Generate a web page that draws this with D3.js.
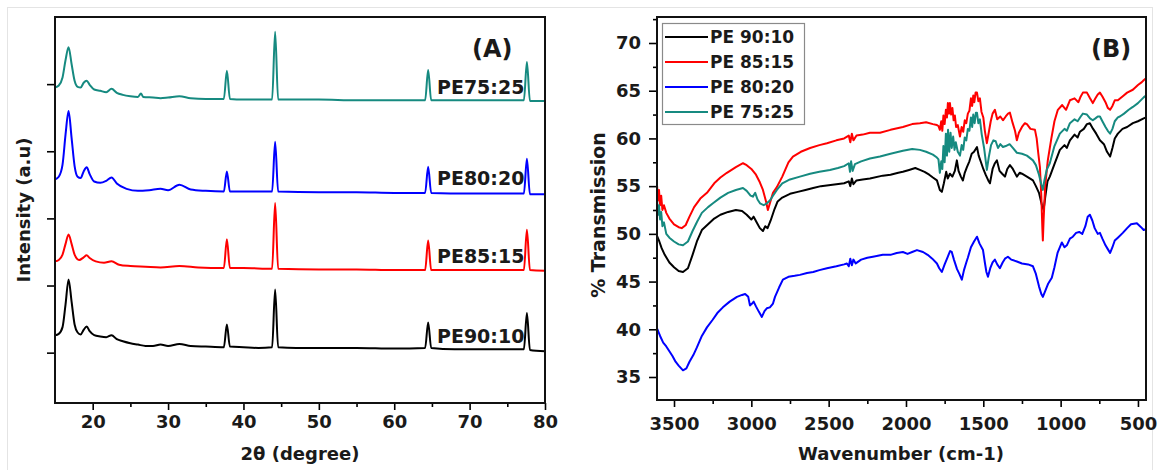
<!doctype html>
<html lang="en">
  <head>
    <meta charset="utf-8">
    <title>XRD and FTIR of PE blends</title>
    <script src="https://d3js.org/d3.v7.min.js"></script>
    <style>
      body { margin: 0; background: #fff; }
      text { font-family: "DejaVu Sans", sans-serif; font-weight: bold; fill: #1a1a1a; }
    </style>
  </head>

  <body>
    <svg width="1159" height="470"></svg>

    <script>
      // ---------- data ----------
      var samples = ["PE 90:10", "PE 85:15", "PE 80:20", "PE 75:25"];
      var xrdLabels = ["PE90:10", "PE85:15", "PE80:20", "PE75:25"];
      var colors = ["#000000", "#ff0000", "#0000ff", "#168a80"];

      // XRD, [2theta, stacked intensity]
      var xrd9010 = [[15,0.26],[15.5,0.28],[16.0,0.38],[16.4,0.72],[16.8,1.09],[17.2,0.76],[17.6,0.42],[18.0,0.3],[18.4,0.27],[18.8,0.34],[19.2,0.39],[19.6,0.32],[20.2,0.26],[21.0,0.24],[21.8,0.23],[22.5,0.26],[23.2,0.2],[24,0.17],[25,0.14],[26,0.12],[27,0.1],[28,0.1],[29,0.12],[30,0.1],[31.5,0.13],[33,0.1],[35,0.09],[37.4,0.08],[37.8,0.42],[38.2,0.09],[40,0.08],[42,0.07],[43.8,0.08],[44.2,0.94],[44.6,0.08],[47,0.07],[50,0.07],[55,0.07],[60,0.06],[64.1,0.07],[64.5,0.45],[64.9,0.07],[68,0.05],[72,0.05],[77.2,0.05],[77.6,0.59],[78.0,0.04],[80,0.02]];
      var xrd8515 = [[15,1.36],[15.5,1.38],[16.0,1.46],[16.4,1.62],[16.8,1.76],[17.2,1.62],[17.6,1.46],[18.2,1.38],[18.8,1.42],[19.2,1.45],[19.6,1.41],[20.4,1.36],[21.5,1.34],[22.5,1.36],[23.5,1.31],[25,1.29],[27,1.28],[29,1.27],[31.5,1.29],[34,1.27],[37.4,1.26],[37.8,1.69],[38.2,1.26],[40,1.26],[43.8,1.25],[44.2,2.23],[44.6,1.25],[50,1.24],[55,1.24],[60,1.23],[64.1,1.23],[64.5,1.67],[64.9,1.23],[70,1.23],[77.2,1.23],[77.6,1.83],[78.0,1.23],[80,1.22]];
      var xrd8020 = [[15,2.58],[15.5,2.62],[16.0,2.8],[16.4,3.25],[16.8,3.6],[17.2,3.2],[17.6,2.78],[18.0,2.62],[18.4,2.6],[18.8,2.7],[19.2,2.76],[19.6,2.66],[20.2,2.55],[21.0,2.53],[21.8,2.56],[22.5,2.61],[23.2,2.52],[24.5,2.44],[26,2.41],[27.5,2.42],[29,2.44],[30,2.42],[31.5,2.5],[33,2.43],[35,2.41],[37.4,2.4],[37.8,2.7],[38.2,2.4],[40,2.4],[43.8,2.4],[44.2,3.14],[44.6,2.4],[50,2.39],[55,2.39],[60,2.38],[64.1,2.38],[64.5,2.77],[64.9,2.38],[70,2.37],[77.2,2.37],[77.6,2.89],[78.0,2.36],[80,2.36]];
      var xrd7525 = [[15,3.95],[15.5,3.98],[16.0,4.1],[16.4,4.36],[16.8,4.55],[17.2,4.3],[17.6,4.05],[18.0,3.96],[18.4,3.95],[18.8,4.02],[19.2,4.05],[19.6,3.99],[20.2,3.92],[21,3.9],[21.8,3.88],[22.5,3.93],[23.2,3.87],[24,3.84],[25,3.82],[26,3.81],[26.4,3.86],[26.7,3.81],[28,3.8],[29,3.79],[30,3.8],[31.5,3.82],[33,3.79],[35,3.78],[37.4,3.78],[37.8,4.2],[38.2,3.78],[40,3.77],[43.8,3.77],[44.2,4.78],[44.6,3.77],[50,3.77],[55,3.76],[60,3.76],[64.1,3.76],[64.5,4.21],[64.9,3.76],[70,3.76],[77.2,3.76],[77.6,4.33],[78.0,3.75],[80,3.75]];
      var xrdLabelY = [0.144, 1.336, 2.497, 3.853];

      // FTIR, [wavenumber, % transmission]
      var ftir9010 = [[3610,49.8],[3595,49.2],[3580,48.5],[3560,47.8],[3530,47.0],[3500,46.5],[3470,46.1],[3442,46.0],[3410,46.4],[3380,47.8],[3350,49.3],[3320,50.4],[3280,51.0],[3240,51.6],[3200,52.0],[3150,52.3],[3100,52.5],[3060,52.4],[3030,52.0],[3000,51.5],[2985,51.8],[2965,51.2],[2945,50.6],[2925,50.3],[2910,50.8],[2895,50.6],[2875,51.4],[2850,52.6],[2830,53.4],[2800,53.8],[2750,54.2],[2700,54.4],[2650,54.6],[2600,54.8],[2550,55.0],[2500,55.1],[2450,55.2],[2400,55.3],[2370,55.5],[2360,55.0],[2350,55.8],[2340,55.2],[2320,55.6],[2280,55.7],[2233,55.8],[2150,56.1],[2100,56.2],[2050,56.4],[2020,56.5],[1980,56.7],[1940,56.9],[1910,56.7],[1880,56.5],[1850,56.2],[1826,55.9],[1800,55.6],[1781,54.6],[1768,54.4],[1755,55.3],[1740,56.5],[1730,55.8],[1716,56.3],[1700,56.0],[1684,56.6],[1671,57.7],[1660,56.6],[1645,56.0],[1632,55.6],[1620,56.4],[1606,57.0],[1590,57.6],[1575,58.4],[1560,58.6],[1541,59.1],[1530,58.2],[1515,57.5],[1500,56.8],[1485,56.2],[1468,55.6],[1457,55.3],[1440,56.8],[1425,57.4],[1412,57.7],[1395,56.6],[1378,56.3],[1360,56.0],[1345,56.8],[1328,57.2],[1309,56.8],[1283,56.0],[1265,56.4],[1250,56.3],[1218,56.0],[1179,55.6],[1160,55.0],[1140,54.3],[1121,53.0],[1110,52.5],[1100,53.8],[1085,55.5],[1070,56.0],[1040,57.3],[1005,58.8],[975,59.3],[960,59.0],[940,59.8],[910,60.4],[890,60.1],[875,60.7],[850,61.0],[830,61.5],[811,61.6],[790,61.0],[770,60.5],[746,59.8],[720,59.4],[700,58.6],[680,58.1],[665,59.0],[650,60.0],[630,60.5],[600,61.0],[570,61.2],[533,61.6],[500,61.8],[463,62.1],[448,62.2]];
      var ftir8515 = [[3610,55.1],[3603,53.5],[3597,54.6],[3590,53.0],[3583,54.0],[3575,52.5],[3565,53.0],[3550,52.2],[3530,51.6],[3500,51.0],[3470,50.7],[3450,50.6],[3425,50.9],[3400,51.8],[3370,52.8],[3330,53.7],[3287,54.3],[3240,55.3],[3200,55.9],[3158,56.4],[3100,57.0],[3054,57.4],[3030,57.2],[3000,56.8],[2970,56.2],[2945,55.4],[2925,54.6],[2905,53.4],[2893,52.5],[2880,53.2],[2860,54.3],[2835,54.9],[2800,56.0],[2760,57.5],[2731,58.1],[2680,58.6],[2620,59.0],[2560,59.3],[2511,59.5],[2450,59.8],[2400,60.0],[2370,60.3],[2360,59.6],[2350,60.5],[2340,59.8],[2320,60.3],[2280,60.4],[2233,60.6],[2168,60.6],[2100,60.9],[2020,61.2],[1960,61.5],[1910,61.6],[1870,61.7],[1826,61.5],[1800,61.4],[1790,61.3],[1781,60.9],[1772,61.8],[1765,60.8],[1758,62.4],[1750,61.5],[1742,63.0],[1735,62.2],[1729,63.7],[1722,62.6],[1716,63.7],[1708,62.5],[1700,63.2],[1692,61.9],[1684,62.4],[1676,61.2],[1665,61.4],[1651,60.2],[1640,61.2],[1630,60.7],[1620,61.9],[1610,61.6],[1600,62.6],[1590,62.9],[1580,64.2],[1572,63.4],[1565,64.5],[1558,63.8],[1550,64.8],[1541,64.8],[1532,63.9],[1522,64.2],[1512,62.8],[1500,62.2],[1490,60.8],[1477,59.5],[1465,60.6],[1452,61.8],[1440,62.6],[1425,63.0],[1410,62.0],[1390,62.3],[1373,61.9],[1355,62.3],[1340,62.6],[1328,62.7],[1310,61.6],[1295,60.8],[1283,59.8],[1270,60.6],[1250,61.2],[1231,61.6],[1218,61.5],[1195,61.0],[1166,60.9],[1155,60.0],[1145,58.5],[1134,57.0],[1125,54.0],[1118,50.5],[1115,49.3],[1110,51.5],[1100,55.0],[1083,57.7],[1060,60.0],[1040,61.8],[1018,63.0],[990,63.5],[965,63.0],[940,64.0],[910,64.2],[885,63.8],[870,64.4],[856,64.8],[830,64.8],[810,64.2],[792,63.7],[775,64.2],[760,64.6],[746,64.8],[730,64.4],[710,63.8],[695,63.2],[680,63.0],[665,63.4],[650,64.0],[630,64.0],[600,64.4],[570,64.8],[533,65.1],[500,65.6],[475,65.9],[463,66.1],[448,66.3]];
      var ftir8020 = [[3610,40.1],[3590,39.3],[3570,38.6],[3550,38.2],[3530,37.7],[3510,37.2],[3490,36.6],[3470,36.2],[3442,35.7],[3420,35.9],[3400,36.6],[3375,37.3],[3352,38.1],[3320,39.3],[3287,40.2],[3250,41.0],[3220,41.7],[3184,42.3],[3140,42.9],[3093,43.4],[3060,43.6],[3040,43.7],[3020,43.4],[3009,42.5],[2995,42.7],[2985,42.9],[2970,42.4],[2950,41.8],[2932,41.3],[2915,41.9],[2900,42.2],[2880,42.3],[2860,42.7],[2847,43.4],[2820,44.4],[2796,45.2],[2760,45.5],[2720,45.6],[2686,45.7],[2640,45.9],[2600,46.0],[2560,46.2],[2511,46.4],[2450,46.6],[2400,46.8],[2382,46.9],[2370,46.6],[2360,47.4],[2350,46.7],[2340,47.3],[2325,46.9],[2290,47.3],[2250,47.5],[2214,47.6],[2150,47.8],[2100,47.8],[2060,48.0],[2020,48.1],[1990,47.9],[1960,48.1],[1929,48.3],[1890,48.1],[1860,47.8],[1830,47.4],[1800,46.9],[1785,46.4],[1768,46.0],[1750,46.8],[1730,47.6],[1715,48.2],[1704,48.1],[1690,47.3],[1670,46.3],[1655,45.8],[1639,45.2],[1625,46.2],[1610,47.0],[1600,47.5],[1580,48.6],[1560,49.2],[1541,49.7],[1525,49.0],[1502,48.3],[1490,47.0],[1480,46.0],[1470,45.5],[1455,46.4],[1440,47.0],[1425,47.3],[1410,46.8],[1393,46.4],[1375,47.0],[1360,47.4],[1341,47.6],[1320,47.3],[1300,47.2],[1283,47.1],[1250,46.9],[1210,46.8],[1179,46.6],[1160,45.8],[1140,44.5],[1125,43.7],[1115,43.4],[1100,44.0],[1080,44.8],[1057,45.4],[1040,46.5],[1020,48.0],[992,49.1],[975,48.6],[960,48.8],[940,49.5],[921,49.7],[900,50.1],[880,50.2],[860,50.0],[840,50.8],[825,51.8],[811,52.0],[795,51.4],[780,50.6],[760,50.0],[746,50.1],[730,49.5],[710,48.8],[695,48.4],[680,48.0],[665,48.6],[650,49.3],[630,49.6],[598,50.1],[570,50.6],[545,51.0],[507,51.1],[480,50.7],[463,50.4],[448,50.5]];
      var ftir7525 = [[3610,53.5],[3603,52.0],[3597,53.0],[3590,51.5],[3583,52.3],[3575,50.8],[3565,51.2],[3550,50.0],[3530,49.6],[3500,49.2],[3470,48.9],[3442,48.8],[3410,49.2],[3380,50.3],[3350,51.3],[3320,52.2],[3280,52.8],[3248,53.2],[3200,53.8],[3150,54.3],[3100,54.6],[3054,54.8],[3030,54.5],[3005,54.0],[2990,53.9],[2975,54.3],[2960,53.6],[2944,53.2],[2920,53.0],[2900,53.2],[2880,53.5],[2860,54.0],[2835,54.6],[2800,55.3],[2750,55.7],[2686,56.0],[2620,56.3],[2560,56.5],[2492,56.7],[2440,56.9],[2400,57.1],[2370,57.4],[2362,56.5],[2355,57.6],[2345,56.6],[2330,57.3],[2290,57.6],[2233,57.9],[2168,58.1],[2100,58.4],[2020,58.7],[1960,58.9],[1910,58.8],[1870,58.6],[1826,58.3],[1800,58.0],[1790,57.8],[1781,56.4],[1772,57.6],[1765,56.8],[1758,59.2],[1750,57.5],[1742,60.5],[1735,58.2],[1728,60.9],[1720,58.6],[1712,60.6],[1704,59.0],[1695,60.2],[1686,58.8],[1678,59.6],[1665,58.6],[1651,58.2],[1640,59.3],[1630,58.8],[1620,60.1],[1610,59.8],[1600,61.0],[1590,60.8],[1580,62.2],[1572,61.2],[1565,62.5],[1556,61.6],[1548,62.7],[1541,62.7],[1532,61.6],[1522,62.0],[1510,60.4],[1495,59.0],[1477,56.7],[1465,58.0],[1450,59.3],[1435,59.8],[1420,59.7],[1405,59.0],[1390,59.4],[1373,59.1],[1355,59.2],[1330,59.4],[1309,59.0],[1283,58.5],[1250,58.4],[1218,58.2],[1179,57.7],[1160,57.2],[1140,56.2],[1125,55.2],[1115,54.6],[1105,55.6],[1090,56.7],[1070,57.4],[1040,59.2],[1005,60.5],[975,61.0],[960,60.8],[940,61.6],[910,62.0],[890,61.8],[870,62.3],[856,62.6],[830,62.5],[810,62.1],[792,61.9],[775,62.1],[760,62.3],[746,62.3],[730,61.8],[710,61.2],[695,60.8],[680,60.5],[665,61.0],[650,61.8],[630,62.2],[617,62.3],[590,62.6],[560,63.0],[533,63.3],[500,63.7],[463,64.3],[448,64.5]];

      var xrdTicks = [20, 30, 40, 50, 60, 70, 80];
      var ftirXTicks = [3500, 3000, 2500, 2000, 1500, 1000, 500];
      var ftirYTicks = [35, 40, 45, 50, 55, 60, 65, 70];

      var xrdSeries = [xrd9010, xrd8515, xrd8020, xrd7525];
      var ftirSeries = [ftir9010, ftir8515, ftir8020, ftir7525];

      var svg = d3.select('svg');

      svg.append('rect').attr('width', 1159).attr('height', 470).attr('fill', '#fff');
      svg.append('rect').attr('x', 7.5).attr('y', 7.5).attr('width', 1145).attr('height', 470)
        .attr('fill', 'none').attr('stroke', '#e4e4e4');

      // ---------- panel A: XRD ----------
      var ax = d3.scaleLinear().domain([15, 80]).range([55, 545]);
      var ay = d3.scaleLinear().domain([-0.75, 5]).range([403, 17]);

      var lineA = d3.line()
        .x(function(d){ return ax(d[0]); })
        .y(function(d){ return ay(d[1]); })
        .curve(d3.curveMonotoneX);

      var gA = svg.append('g');

      gA.selectAll('path.xrd').data(xrdSeries).enter()
        .append('path')
          .attr('class', 'xrd')
          .attr('d', lineA)
          .attr('fill', 'none')
          .attr('stroke', function(d,i){ return colors[i]; })
          .attr('stroke-width', 2)
          .attr('stroke-linejoin', 'round');

      // minor ticks
      gA.append('g').attr('transform', 'translate(0,403)')
        .call(d3.axisBottom(ax).tickValues(d3.range(25, 80, 10)).tickSize(4).tickFormat('').tickSizeOuter(0))
        .call(function(g){ g.select('.domain').remove(); g.selectAll('line').attr('stroke-width', 1.6); });
      gA.append('g').attr('transform', 'translate(0,403)')
        .call(d3.axisBottom(ax).tickValues(xrdTicks).tickSize(7).tickSizeOuter(0))
        .call(function(g){
          g.select('.domain').remove();
          g.selectAll('line').attr('stroke-width', 1.6);
          g.selectAll('text').attr('y', 25).attr('dy', null).style('font-size', '18px');
        });
      gA.append('g').attr('transform', 'translate(55,0)')
        .call(d3.axisLeft(ay).tickValues([0, 1, 2, 3, 4]).tickSize(8).tickFormat('').tickSizeOuter(0))
        .call(function(g){ g.select('.domain').remove(); g.selectAll('line').attr('stroke-width', 1.6); });

      gA.append('rect').attr('x', 55).attr('y', 17).attr('width', 490).attr('height', 386)
        .attr('fill', 'none').attr('stroke', '#111').attr('stroke-width', 2);

      gA.selectAll('text.lab').data(xrdLabels).enter()
        .append('text')
          .attr('class', 'lab')
          .attr('x', 437)
          .attr('y', function(d,i){ return ay(xrdLabelY[i]); })
          .style('font-size', '19px')
          .text(function(d){ return d; });

      gA.append('text').attr('x', 472).attr('y', 57).style('font-size', '24px').text('(A)');
      gA.append('text').attr('x', 300).attr('y', 460).attr('text-anchor', 'middle')
        .style('font-size', '18px').text('2\u03b8 (degree)');
      gA.append('text').attr('transform', 'translate(30,210) rotate(-90)').attr('text-anchor', 'middle')
        .style('font-size', '18px').text('Intensity (a.u)');

      // ---------- panel B: FTIR ----------
      var bx = d3.scaleLinear().domain([3610, 448]).range([657, 1146]);
      var by = d3.scaleLinear().domain([35, 70]).range([377, 43]);

      var lineB = d3.line()
        .x(function(d){ return bx(d[0]); })
        .y(function(d){ return by(d[1]); });

      var gB = svg.append('g');

      gB.selectAll('path.ftir').data(ftirSeries).enter()
        .append('path')
          .attr('class', 'ftir')
          .attr('d', lineB)
          .attr('fill', 'none')
          .attr('stroke', function(d,i){ return colors[i]; })
          .attr('stroke-width', 2)
          .attr('stroke-linejoin', 'round');

      gB.append('g').attr('transform', 'translate(0,400)')
        .call(d3.axisBottom(bx).tickValues(d3.range(750, 3500, 500)).tickSize(4).tickFormat('').tickSizeOuter(0))
        .call(function(g){ g.select('.domain').remove(); g.selectAll('line').attr('stroke-width', 1.6); });
      gB.append('g').attr('transform', 'translate(0,400)')
        .call(d3.axisBottom(bx).tickValues(ftirXTicks).tickSize(7).tickFormat(d3.format('d')).tickSizeOuter(0))
        .call(function(g){
          g.select('.domain').remove();
          g.selectAll('line').attr('stroke-width', 1.6);
          g.selectAll('text').attr('y', 30).attr('dy', null).style('font-size', '18px');
        });
      gB.append('g').attr('transform', 'translate(657,0)')
        .call(d3.axisLeft(by).tickValues(d3.range(37.5, 73, 5)).tickSize(4).tickFormat('').tickSizeOuter(0))
        .call(function(g){ g.select('.domain').remove(); g.selectAll('line').attr('stroke-width', 1.6); });
      gB.append('g').attr('transform', 'translate(657,0)')
        .call(d3.axisLeft(by).tickValues(ftirYTicks).tickSize(8).tickSizeOuter(0))
        .call(function(g){
          g.select('.domain').remove();
          g.selectAll('line').attr('stroke-width', 1.6);
          g.selectAll('text').attr('x', -16).style('font-size', '18px');
        });

      gB.append('rect').attr('x', 657).attr('y', 17).attr('width', 489).attr('height', 383)
        .attr('fill', 'none').attr('stroke', '#111').attr('stroke-width', 2);

      gB.append('text').attr('x', 1091).attr('y', 57).style('font-size', '24px').text('(B)');
      gB.append('text').attr('x', 901).attr('y', 460).attr('text-anchor', 'middle')
        .style('font-size', '18px').text('Wavenumber (cm-1)');
      gB.append('text').attr('transform', 'translate(605,215) rotate(-90)').attr('text-anchor', 'middle')
        .style('font-size', '19px').text('% Transmission');

      // legend
      var legend = gB.append('g');
      legend.append('rect').attr('x', 662.5).attr('y', 23.5).attr('width', 142).attr('height', 101)
        .attr('fill', '#fff').attr('stroke', '#8a8a8a').attr('stroke-width', 1.2);
      var items = legend.selectAll('g.item').data(samples).enter()
        .append('g').attr('class', 'item')
        .attr('transform', function(d,i){ return 'translate(0,' + (37 + i * 25) + ')'; });
      items.append('line').attr('x1', 665).attr('x2', 708)
        .attr('stroke', function(d,i){ return colors[i]; }).attr('stroke-width', 2);
      items.append('text').attr('x', 710).attr('y', 6).style('font-size', '17px')
        .text(function(d){ return d; });
    </script>
  </body>
</html>
